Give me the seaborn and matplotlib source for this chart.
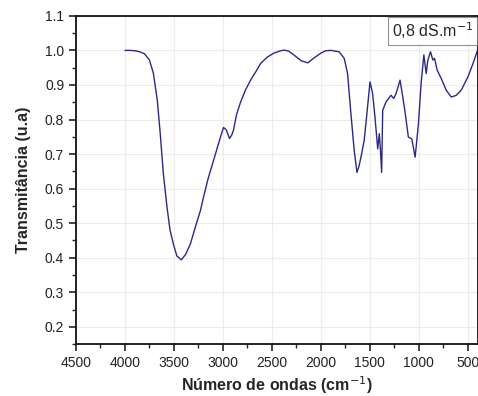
import matplotlib
matplotlib.use("Agg")
import matplotlib.pyplot as plt
import seaborn as sns
import pandas as pd
import numpy as np
from matplotlib.ticker import MultipleLocator

wavenumber = [4000, 3950, 3900, 3850, 3800, 3750, 3710, 3670, 3640, 3608, 3570, 3540,
              3506, 3470, 3424, 3380, 3332, 3280, 3230, 3199, 3150, 3096, 3040, 2994,
              2965, 2933, 2910, 2892, 2860, 2820, 2770, 2717, 2660, 2615, 2550, 2481,
              2420, 2379, 2330, 2276, 2200, 2133, 2070, 2000, 1950, 1898, 1813, 1761,
              1727, 1693, 1659, 1631, 1610, 1590, 1557, 1529, 1498, 1471, 1447, 1419,
              1403, 1393, 1379, 1368, 1334, 1283, 1255, 1232, 1191, 1163, 1140, 1106,
              1071, 1037, 1003, 976, 948, 924, 907, 880, 856, 839, 812, 771, 720, 668,
              617, 566, 497, 446, 400]
transmittance = [1.000, 1.000, 0.999, 0.996, 0.990, 0.972, 0.934, 0.856, 0.760, 0.643,
                 0.545, 0.480, 0.440, 0.405, 0.394, 0.410, 0.440, 0.490, 0.536, 0.574,
                 0.630, 0.681, 0.735, 0.777, 0.770, 0.745, 0.755, 0.769, 0.815, 0.850,
                 0.885, 0.914, 0.940, 0.962, 0.980, 0.992, 0.998, 1.001, 0.998, 0.987,
                 0.970, 0.964, 0.978, 0.992, 0.999, 1.000, 0.996, 0.977, 0.933, 0.818,
                 0.710, 0.647, 0.665, 0.691, 0.740, 0.818, 0.909, 0.875, 0.807, 0.715,
                 0.759, 0.720, 0.647, 0.827, 0.851, 0.870, 0.861, 0.875, 0.914, 0.865,
                 0.822, 0.749, 0.744, 0.691, 0.788, 0.904, 0.987, 0.933, 0.972, 0.996,
                 0.972, 0.977, 0.943, 0.919, 0.885, 0.865, 0.870, 0.885, 0.924, 0.962,
                 1.000]
series_label = "0,8 dS.m$^{-1}$"
x_ticks = [4500, 4000, 3500, 3000, 2500, 2000, 1500, 1000, 500]
y_ticks = [0.2, 0.3, 0.4, 0.5, 0.6, 0.7, 0.8, 0.9, 1.0, 1.1]

sns.set_style("ticks")
plt.rcParams['font.family'] = ['Liberation Sans', 'DejaVu Sans']

df = pd.DataFrame({"wn": wavenumber, "T": transmittance, "s": series_label})

fig = plt.figure(figsize=(4.78, 3.96), dpi=100)
ax = fig.add_axes([0.159, 0.131, 0.841, 0.829])

sns.lineplot(data=df, x="wn", y="T", hue="s", palette=["#2a2a86"], estimator=None,
             linewidth=1.0, ax=ax)

ax.set_xlim(4500, 395)
ax.set_ylim(0.15, 1.1)
ax.set_xticks(x_ticks)
ax.set_yticks(y_ticks)
ax.xaxis.set_minor_locator(MultipleLocator(250))
ax.yaxis.set_minor_locator(MultipleLocator(0.05))
ax.tick_params(axis="both", which="major", direction="out", length=5, width=1.2,
               labelsize=10, colors="#222222")
ax.tick_params(axis="both", which="minor", direction="out", length=3, width=1.0)
ax.grid(True, which="major", color="#ececec", linewidth=0.8)
ax.set_axisbelow(True)
for side in ["left", "bottom", "top", "right"]:
    ax.spines[side].set_visible(True)
    ax.spines[side].set_linewidth(1.3)
    ax.spines[side].set_color("#111111")

ax.set_xlabel("Número de ondas (cm$^{-1}$)", fontsize=11.5, fontweight="bold", labelpad=3)
ax.set_ylabel("Transmitância (u.a)", fontsize=11.5, fontweight="bold", labelpad=10)

leg = ax.legend(loc="upper right", handlelength=0, handletextpad=0, fontsize=11.5,
                frameon=True, fancybox=False, borderpad=0.25, borderaxespad=0.05)
leg.get_frame().set_edgecolor("#777777")
leg.get_frame().set_linewidth(0.8)
for h in leg.legend_handles:
    h.set_visible(False)

fig.savefig("out.png", dpi=100)
